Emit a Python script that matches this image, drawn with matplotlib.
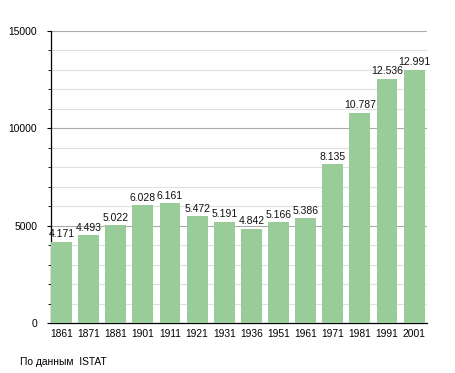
import matplotlib.pyplot as plt
from matplotlib.ticker import MultipleLocator

plt.rcParams['font.family'] = ['Liberation Sans', 'DejaVu Sans']

years = ['1861', '1871', '1881', '1901', '1911', '1921', '1931',
         '1936', '1951', '1961', '1971', '1981', '1991', '2001']
population = [4171, 4493, 5022, 6028, 6161, 5472, 5191,
              4842, 5166, 5386, 8135, 10787, 12536, 12991]
value_labels = ['4.171', '4.493', '5.022', '6.028', '6.161', '5.472', '5.191',
                '4.842', '5.166', '5.386', '8.135', '10.787', '12.536', '12.991']

fig = plt.figure(figsize=(4.55, 3.73), dpi=100)
ax = fig.add_axes([0.112, 0.134, 0.826, 0.784])

width = 0.77
pos = range(len(years))
ax.bar([p + width / 2 for p in pos], population, width=width,
       color='#99cc99', zorder=3)

for p, v, lab in zip(pos, population, value_labels):
    ax.text(p + width / 2, v + 120, lab, ha='center', va='bottom',
            fontsize=7.5, color='#111111', zorder=4)

ax.set_xlim(0, 13.85)
ax.set_ylim(0, 15000)
ax.set_xticks([p + width / 2 for p in pos])
ax.set_xticklabels(years)
ax.tick_params(axis='x', length=0, labelsize=7.4, pad=4)

ax.yaxis.set_major_locator(MultipleLocator(5000))
ax.yaxis.set_minor_locator(MultipleLocator(1000))
ax.tick_params(axis='y', which='major', length=3, labelsize=7.4, pad=7)
ax.tick_params(axis='y', which='minor', length=2)
ax.grid(axis='y', which='major', color='#aaaaaa', lw=0.8, zorder=0)
ax.grid(axis='y', which='minor', color='#e0e0e0', lw=0.8, zorder=0)

ax.spines['top'].set_visible(False)
ax.spines['right'].set_visible(False)
ax.spines['left'].set_linewidth(0.9)
ax.spines['bottom'].set_linewidth(0.9)

fig.text(20 / 455, 1 - 362 / 373, 'По данным  ISTAT', fontsize=7.4,
         va='center', ha='left')

fig.savefig('out.png', dpi=100)
